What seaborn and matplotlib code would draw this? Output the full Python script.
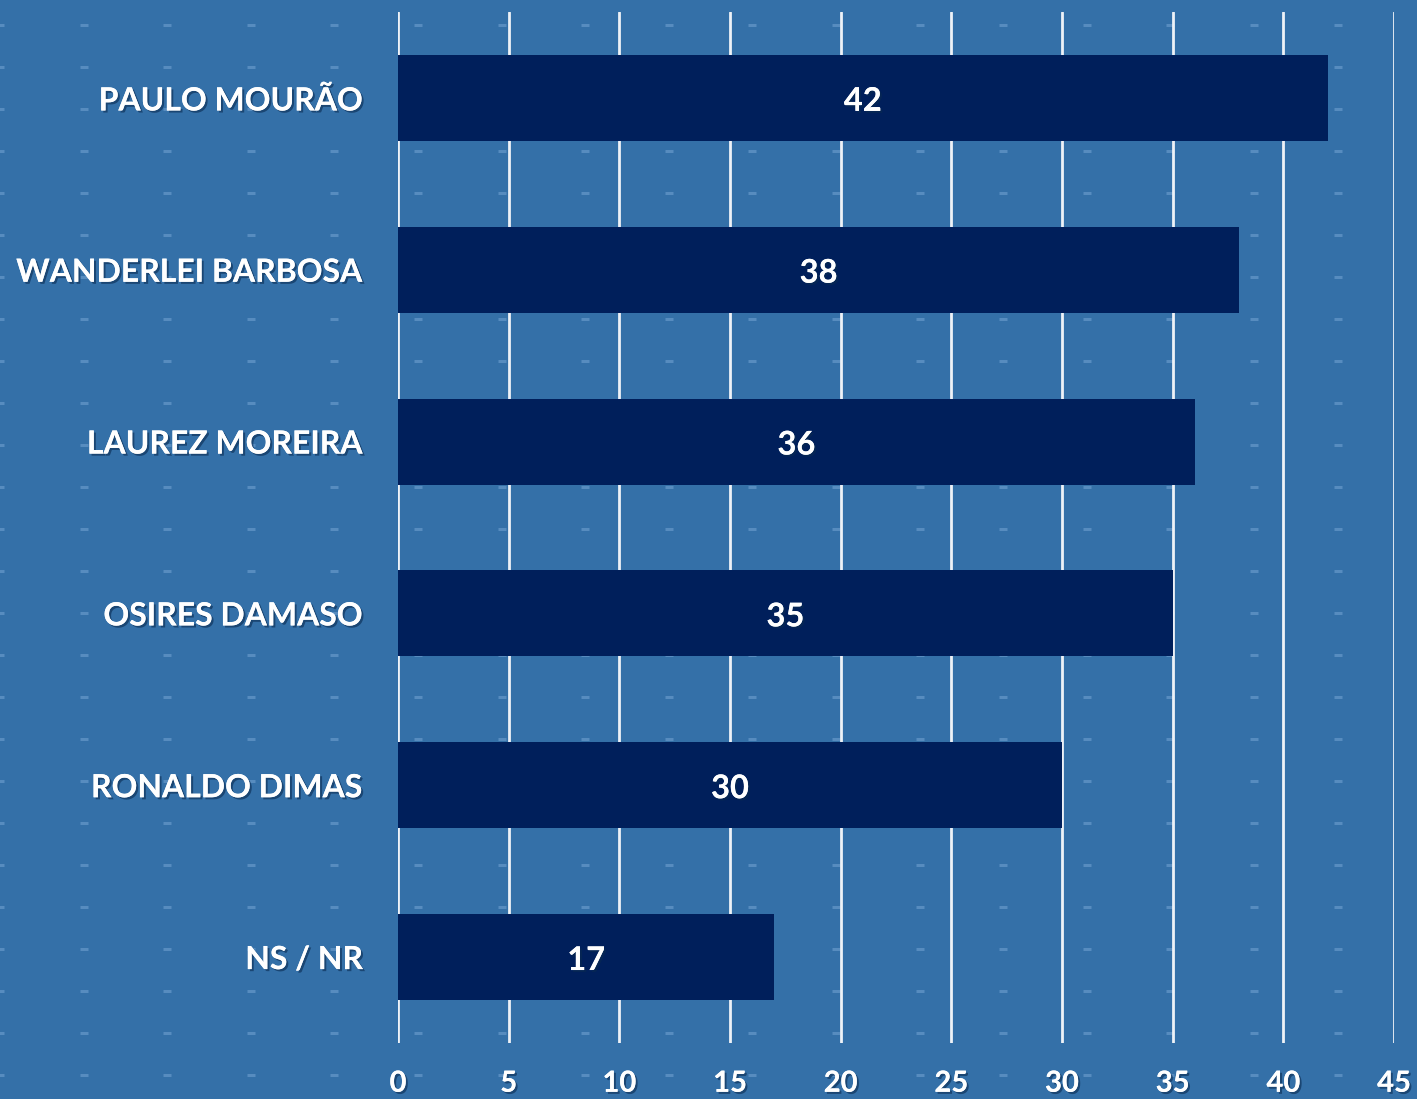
import numpy as np
import pandas as pd
import matplotlib
matplotlib.use("Agg")
import matplotlib.pyplot as plt
import matplotlib.patheffects as pe
import seaborn as sns

categories = ["PAULO MOURÃO", "WANDERLEI BARBOSA", "LAUREZ MOREIRA",
              "OSIRES DAMASO", "RONALDO DIMAS", "NS / NR"]
values = [42, 38, 36, 35, 30, 17]
xticks = [0, 5, 10, 15, 20, 25, 30, 35, 40, 45]

BG = "#3470a8"
BAR = "#001f5b"
W, H = 1417, 1099

sns.set_theme(style="white")
plt.rcParams["font.family"] = ["Lato", "DejaVu Sans"]

fig = plt.figure(figsize=(W / 100, H / 100), dpi=100)
fig.patch.set_facecolor(BG)

# background dash texture
bg = fig.add_axes([0, 0, 1, 1], zorder=0)
bg.set_xlim(0, W)
bg.set_ylim(H, 0)
bg.axis("off")
gx, gy = np.meshgrid(np.arange(0, W + 10, 83.6), np.arange(25, H + 10, 42))
bg.scatter(gx.ravel(), gy.ravel(), marker="_", s=30, linewidths=2.2,
           color="#6fa0d0", alpha=0.6)

shadow = [pe.withSimplePatchShadow(offset=(1.5, -1.5), shadow_rgbFace="#0a2a50", alpha=0.6), pe.Normal()]

ax = fig.add_axes([398 / W, 1 - 1043 / H, (1394 - 398) / W, (1043 - 12) / H], zorder=1)
ax.patch.set_alpha(0)
df = pd.DataFrame({"cat": categories, "val": values})
sns.barplot(data=df, x="val", y="cat", orient="h", color=BAR, width=0.5,
            saturation=1, ax=ax, zorder=3, edgecolor=BAR, linewidth=0)
ax.set_xlim(0, 45)
ax.set_ylim(5.5, -0.5)
ax.set_xticks(xticks)
ax.set_xlabel("")
ax.set_ylabel("")
for s in ax.spines.values():
    s.set_visible(False)
ax.grid(False)
for t in xticks:
    ax.axvline(t, color="#eef2f7", lw=2, zorder=2)
ax.tick_params(axis="both", length=0)
ax.set_xticklabels([str(t) for t in xticks], fontsize=21, fontweight="bold",
                   color="white", path_effects=shadow)
ax.tick_params(axis="x", pad=20)
ax.set_yticklabels(categories, fontsize=23, fontweight="bold", color="white",
                   path_effects=shadow)
ax.tick_params(axis="y", pad=25)

for i, v in enumerate(values):
    ax.text(v / 2, i + 0.02, str(v), ha="center", va="center", fontsize=23.5,
            fontweight="bold", color="white", zorder=5, path_effects=shadow)

fig.savefig("out.png", dpi=100, facecolor=BG)
